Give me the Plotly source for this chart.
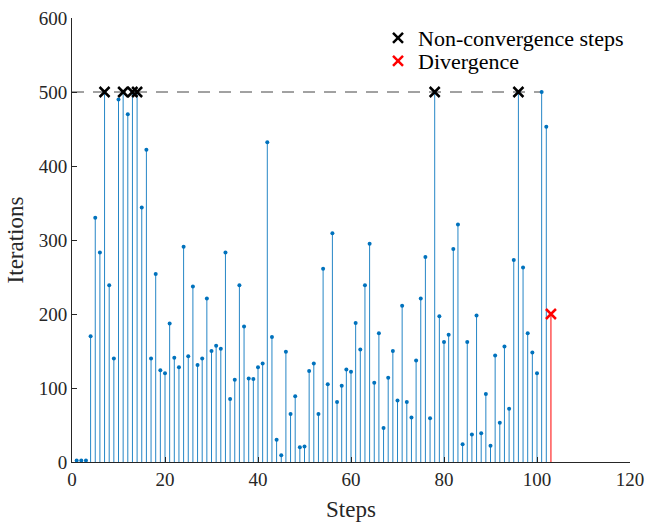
import plotly.graph_objects as go

# ---- data ----
iterations = [
    2, 2, 2, 170, 330, 283, 500, 239, 140, 490,
    500, 470, 500, 500, 344, 422, 140, 254, 124, 120,
    187, 141, 128, 291, 143, 237, 131, 140, 221, 150,
    157, 153, 283, 85, 111, 239, 183, 113, 112, 128,
    133, 432, 169, 30, 9, 149, 65, 89, 20, 21,
    123, 133, 65, 261, 105, 309, 81, 103, 125, 122,
    188, 152, 239, 295, 107, 174, 46, 114, 150, 83,
    211, 81, 60, 137, 221, 277, 59, 500, 197, 162,
    172, 288, 321, 24, 162, 37, 198, 39, 92, 22,
    144, 53, 156, 72, 273, 500, 263, 174, 148, 120,
    500, 453,
]
steps = list(range(1, len(iterations) + 1))

nonconv_steps = [7, 11, 13, 14, 78, 96]
max_iter = 500
limit_end = 101

div_step = [103]
div_iter = [200]

x_ticks = [0, 20, 40, 60, 80, 100, 120]
y_ticks = [0, 100, 200, 300, 400, 500, 600]

BLUE = "#0072BD"
AX = "#262626"
FONT = "Liberation Serif"

# stems built from the data
stem_x, stem_y = [], []
for s, v in zip(steps, iterations):
    stem_x += [s, s, None]
    stem_y += [0, v, None]

div_x, div_y = [], []
for s, v in zip(div_step, div_iter):
    div_x += [s, s, None]
    div_y += [0, v, None]

fig = go.Figure()

fig.add_trace(go.Scatter(
    x=[0, limit_end], y=[max_iter, max_iter], mode="lines",
    line=dict(color="#444444", width=1, dash="12px,9px"),
    showlegend=False, hoverinfo="skip"))

fig.add_trace(go.Scatter(
    x=stem_x, y=stem_y, mode="lines",
    line=dict(color=BLUE, width=1), opacity=0.85,
    showlegend=False, hoverinfo="skip"))

fig.add_trace(go.Scatter(
    x=steps, y=iterations, mode="markers",
    marker=dict(color=BLUE, size=4), cliponaxis=False,
    showlegend=False))

fig.add_trace(go.Scatter(
    x=div_x, y=div_y, mode="lines",
    line=dict(color="#FF0000", width=1), showlegend=False, hoverinfo="skip"))

fig.add_trace(go.Scatter(
    x=nonconv_steps, y=[max_iter] * len(nonconv_steps), mode="markers",
    marker=dict(symbol="x-thin", size=10, color="black",
                line=dict(color="black", width=2.5)),
    name="Non-convergence steps", legend="legend"))

fig.add_trace(go.Scatter(
    x=div_step, y=div_iter, mode="markers",
    marker=dict(symbol="x-thin", size=10, color="#FF0000",
                line=dict(color="#FF0000", width=2.5)),
    name="Divergence", legend="legend2"))

axis_common = dict(
    showgrid=False, zeroline=False, showline=True, linecolor=AX, linewidth=1,
    ticks="inside", ticklen=5, tickwidth=1, tickcolor=AX,
    tickfont=dict(family=FONT, size=19, color=AX),
    mirror=False, automargin=False,
)

leg_common = dict(
    xanchor="left", yanchor="middle", bgcolor="rgba(0,0,0,0)",
    borderwidth=0, font=dict(family=FONT, size=22, color="black"),
)

fig.update_layout(
    width=648, height=522,
    font=dict(family=FONT, color=AX),
    margin=dict(l=72, r=18, t=18, b=60, autoexpand=False),
    plot_bgcolor="white", paper_bgcolor="white",
    xaxis=dict(range=[0, 120], tickvals=x_ticks,
               title=dict(text="Steps", font=dict(family=FONT, size=23, color=AX),
                          standoff=12),
               **axis_common),
    yaxis=dict(range=[0, 600], tickvals=y_ticks,
               title=dict(text="Iterations", font=dict(family=FONT, size=23, color=AX),
                          standoff=8),
               **axis_common),
    showlegend=True,
    legend=dict(x=0.5484, y=0.955, **leg_common),
    legend2=dict(x=0.5484, y=0.903, **leg_common),
)

fig.write_html("out.html")
